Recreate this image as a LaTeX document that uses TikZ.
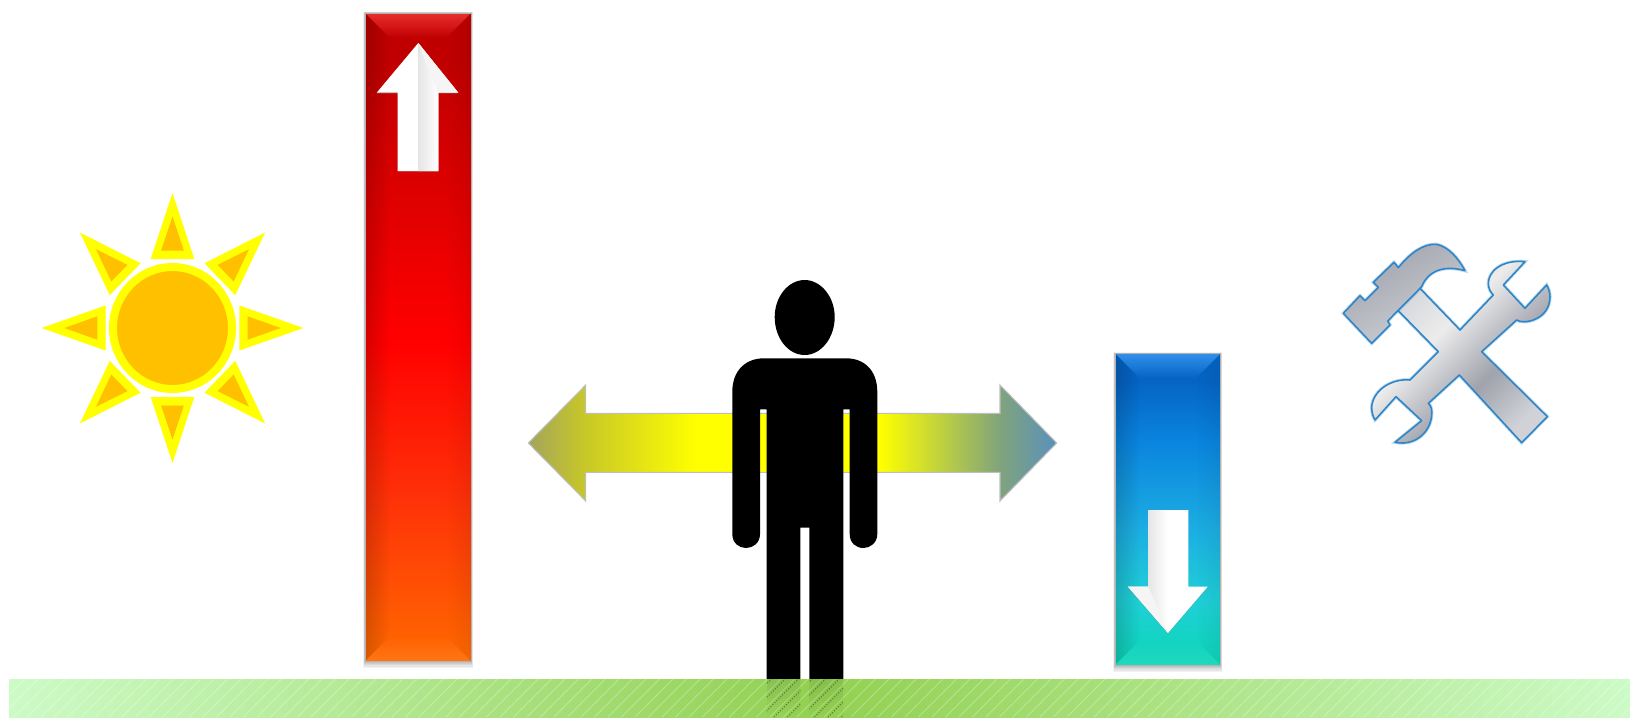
\documentclass[tikz,border=0pt]{standalone}
\usepackage{tikz}
\usetikzlibrary{fadings,shadows}
\definecolor{sunorange}{HTML}{FFC000}
\definecolor{sunyellow}{HTML}{FFFF00}
\definecolor{toolblue}{HTML}{2E86C8}
\definecolor{groundmid}{HTML}{92D050}
\definecolor{groundend}{HTML}{CCFBC6}
\definecolor{redbottom}{HTML}{FF6A00}
\definecolor{redlow}{HTML}{FF3208}
\definecolor{redmid}{HTML}{FF0000}
\definecolor{redtop}{HTML}{C00000}
\definecolor{redbevel}{HTML}{FF4848}
\definecolor{bluebottom}{HTML}{0CD6B6}
\definecolor{bluelow}{HTML}{1FD0D8}
\definecolor{bluemid}{HTML}{1CAEE2}
\definecolor{bluehigh}{HTML}{0A84DE}
\definecolor{bluetop}{HTML}{0564C4}
\definecolor{bluebevel}{HTML}{48A8FF}
\definecolor{arrowleft}{HTML}{A4A45C}
\definecolor{arrowolive}{HTML}{C8C828}
\definecolor{arrowgreen}{HTML}{80A47C}
\definecolor{arrowright}{HTML}{5A90BC}
\definecolor{steellight}{HTML}{D0D2D8}
\definecolor{steelwhite}{HTML}{ECECEC}
\definecolor{steeldark}{HTML}{A0A2AC}
\pgfdeclareverticalshading{redbar}{100bp}{color(0bp)=(redbottom); color(25bp)=(redbottom); color(37.4bp)=(redlow); color(49.8bp)=(redmid); color(71.4bp)=(redtop); color(75bp)=(redtop); color(100bp)=(redtop)}
\pgfdeclareverticalshading{bluebar}{100bp}{color(0bp)=(bluebottom); color(25bp)=(bluebottom); color(35.4bp)=(bluelow); color(46.7bp)=(bluemid); color(61bp)=(bluehigh); color(70.7bp)=(bluetop); color(75bp)=(bluetop); color(100bp)=(bluetop)}
\pgfdeclarehorizontalshading{sidearrow}{100bp}{color(0bp)=(arrowleft); color(25bp)=(arrowleft); color(30.4bp)=(arrowolive); color(40.8bp)=(sunyellow); color(58.3bp)=(sunyellow); color(69.6bp)=(arrowgreen); color(75bp)=(arrowright); color(100bp)=(arrowright)}
\pgfdeclarehorizontalshading{toolsteel}{100bp}{color(0bp)=(steellight); color(25bp)=(steellight); color(42bp)=(steelwhite); color(60bp)=(steeldark); color(75bp)=(steellight); color(100bp)=(steellight)}
\tikzset{
    sunray/.style={fill=sunyellow},
    sunrayin/.style={fill=sunorange},
    whitearrow/.style={fill=white, drop shadow={shadow xshift=0pt, shadow yshift=-0.6pt, opacity=0.3}},
    hatchline/.style={white, opacity=0.3, line width=0.5pt},
    legline/.style={black, opacity=0.4, line width=0.6pt, densely dotted},
    toolline/.style={draw=toolblue, line width=0.9pt, line join=round, preaction={draw=toolblue, opacity=0.3, line width=1.9pt}},
}
\newcommand{\barshadow}[4]{
    \foreach \s in {1,...,6}
        \fill[black, opacity=0.05] (#1-\s*0.3,#2-\s*0.2) rectangle (#3+\s*0.3,#4+\s*1.1);
}
\newcommand{\barbevel}[5]{
    \fill[#5, opacity=0.65, path fading=south] (#1,#2) -- (#3,#2) -- (#3-25,#2+25) -- (#1+25,#2+25) -- cycle;
    \fill[black, opacity=0.16, path fading=east] (#1,#2) -- (#1+25,#2+25) -- (#1+25,#4-25) -- (#1,#4) -- cycle;
    \fill[black, opacity=0.06, path fading=west] (#3,#2) -- (#3-25,#2+25) -- (#3-25,#4-25) -- (#3,#4) -- cycle;
    \fill[white, opacity=0.08, path fading=north] (#1,#4) -- (#3,#4) -- (#3-25,#4-25) -- (#1+25,#4-25) -- cycle;
    \draw[black!30, line width=0.3pt] (#1,#2) rectangle (#3,#4);
}
\begin{document}
\begin{tikzpicture}[x=0.02cm, y=-0.02cm]
    \useasboundingbox (0,0) rectangle (1630,717);
    \fill[white] (0,0) rectangle (1630,717);

    \foreach \ang in {0,45,...,315} {
        \begin{scope}[shift={(172.5,328)}, xscale=0.97, rotate=\ang]
            \fill[sunray] (0,-135) -- (22.5,-69) -- (-22.5,-69) -- cycle;
            \fill[sunrayin] (0,-111.5) -- (11.7,-77.5) -- (-11.7,-77.5) -- cycle;
        \end{scope}
    }
    \draw[sunyellow, fill=sunorange, line width=4.55pt] (172.5,328) ellipse (59.5 and 61);

    \barshadow{365}{13}{471}{661}
    \shade[shading=redbar] (365,13) rectangle (471,661);
    \barbevel{365}{13}{471}{661}{redbevel}
    \fill[whitearrow] (418.3,43) -- (458.3,92.7) -- (438.3,92.7) -- (438.3,171) -- (397.7,171) -- (397.7,92.7) -- (376.7,92.7) -- cycle;
    \shade[left color=black!10, right color=white] (418.3,43) -- (438.3,92.7) -- (438.3,171) -- (418.3,171) -- cycle;
    \fill[black!4] (418.3,43) -- (458.3,92.7) -- (438.3,92.7) -- cycle;

    \barshadow{1115}{353.5}{1220.5}{665}
    \shade[shading=bluebar] (1115,353.5) rectangle (1220.5,665);
    \barbevel{1115}{353.5}{1220.5}{665}{bluebevel}
    \fill[whitearrow] (1168,633) -- (1207.7,586.7) -- (1188.3,586.7) -- (1188.3,510) -- (1148.3,510) -- (1148.3,586.7) -- (1128,586.7) -- cycle;
    \shade[left color=black!10, right color=white] (1168,633) -- (1148.3,586.7) -- (1148.3,510) -- (1168,510) -- cycle;
    \fill[black!4] (1168,633) -- (1128,586.7) -- (1148.3,586.7) -- cycle;

    \shade[shading=sidearrow, draw=black!25, line width=0.6pt] (528.3,443) -- (585.7,385) -- (585.7,413.3) -- (1000,413.3) -- (1000,385) -- (1056.7,443) -- (1000,501) -- (1000,472.3) -- (585.7,472.3) -- (585.7,501) -- cycle;

    \fill[black] (804.7,280) .. controls (821,280) and (834.7,297) .. (834.7,317) .. controls (834.7,338) and (821,355) .. (804.7,355) .. controls (788,355) and (774.7,338) .. (774.7,317) .. controls (774.7,297) and (788,280) .. (804.7,280) -- cycle;
    \fill[black] (764,358.3) -- (846,358.3) .. controls (864,358.3) and (877.3,370) .. (877.3,392) -- (877.3,534) .. controls (877.3,543) and (870,548) .. (863.5,548) .. controls (856,548) and (849.7,543) .. (849.7,534) -- (849.7,409.3) -- (843.3,409.3) -- (843.3,679) -- (809.3,679) -- (809.3,527.7) -- (800.3,527.7) -- (800.3,679) -- (766.7,679) -- (766.7,409.3) -- (760,409.3) -- (760,534) .. controls (760,543) and (753,548) .. (746,548) .. controls (739,548) and (732.3,543) .. (732.3,534) -- (732.3,392) .. controls (732.3,370) and (746,358.3) .. (764,358.3) -- cycle;

    \shade[left color=groundend, right color=groundend, middle color=groundmid] (9,679) rectangle (1630,717);
    \begin{scope}
        \clip (9,679) rectangle (1630,717);
        \foreach \hx in {-40,-26.5,...,1640}
            \draw[hatchline] (\hx,717) -- ++(38,-38);
    \end{scope}
    \begin{scope}
        \clip (766.7,679) rectangle (800.3,717) (809.3,679) rectangle (843.3,717);
        \fill[black, opacity=0.08, path fading=south] (766.7,679) rectangle (843.3,717);
        \foreach \hx in {720,733.5,...,860}
            \draw[legline] (\hx,717) -- ++(38,-38);
    \end{scope}

    \begin{scope}[shift={(1320,230)}, scale=0.3333]
        \shade[shading=toolsteel, shading angle=-45, toolline] (615,95) .. controls (545,88) and (505,125) .. (505,160) .. controls (505,175) and (512,187) .. (520,195) -- (420,300) -- (295,170) -- (228,235) -- (355,365) -- (270,450) .. controls (215,445) and (160,480) .. (155,530) .. controls (155,545) and (158,558) .. (165,570) -- (228,500) -- (305,572) -- (225,637) .. controls (290,650) and (340,600) .. (335,540) .. controls (335,532) and (330,525) .. (325,520) -- (418,435) -- (605,638) -- (682,560) -- (485,365) -- (590,270) .. controls (610,285) and (690,270) .. (690,200) .. controls (690,188) and (686,175) .. (680,165) -- (615,235) -- (550,165) -- cycle;
        \shade[left color=steeldark, right color=steellight, shading angle=30, toolline] (70,250) -- (120,197) -- (135,212) -- (175,172) -- (160,157) -- (222,97) -- (235,113) .. controls (270,70) and (310,40) .. (350,43) .. controls (385,50) and (415,85) .. (435,122) .. controls (375,105) and (325,120) .. (305,170) -- (203,273) -- (210,285) -- (155,340) -- cycle;
    \end{scope}
\end{tikzpicture}
\end{document}
